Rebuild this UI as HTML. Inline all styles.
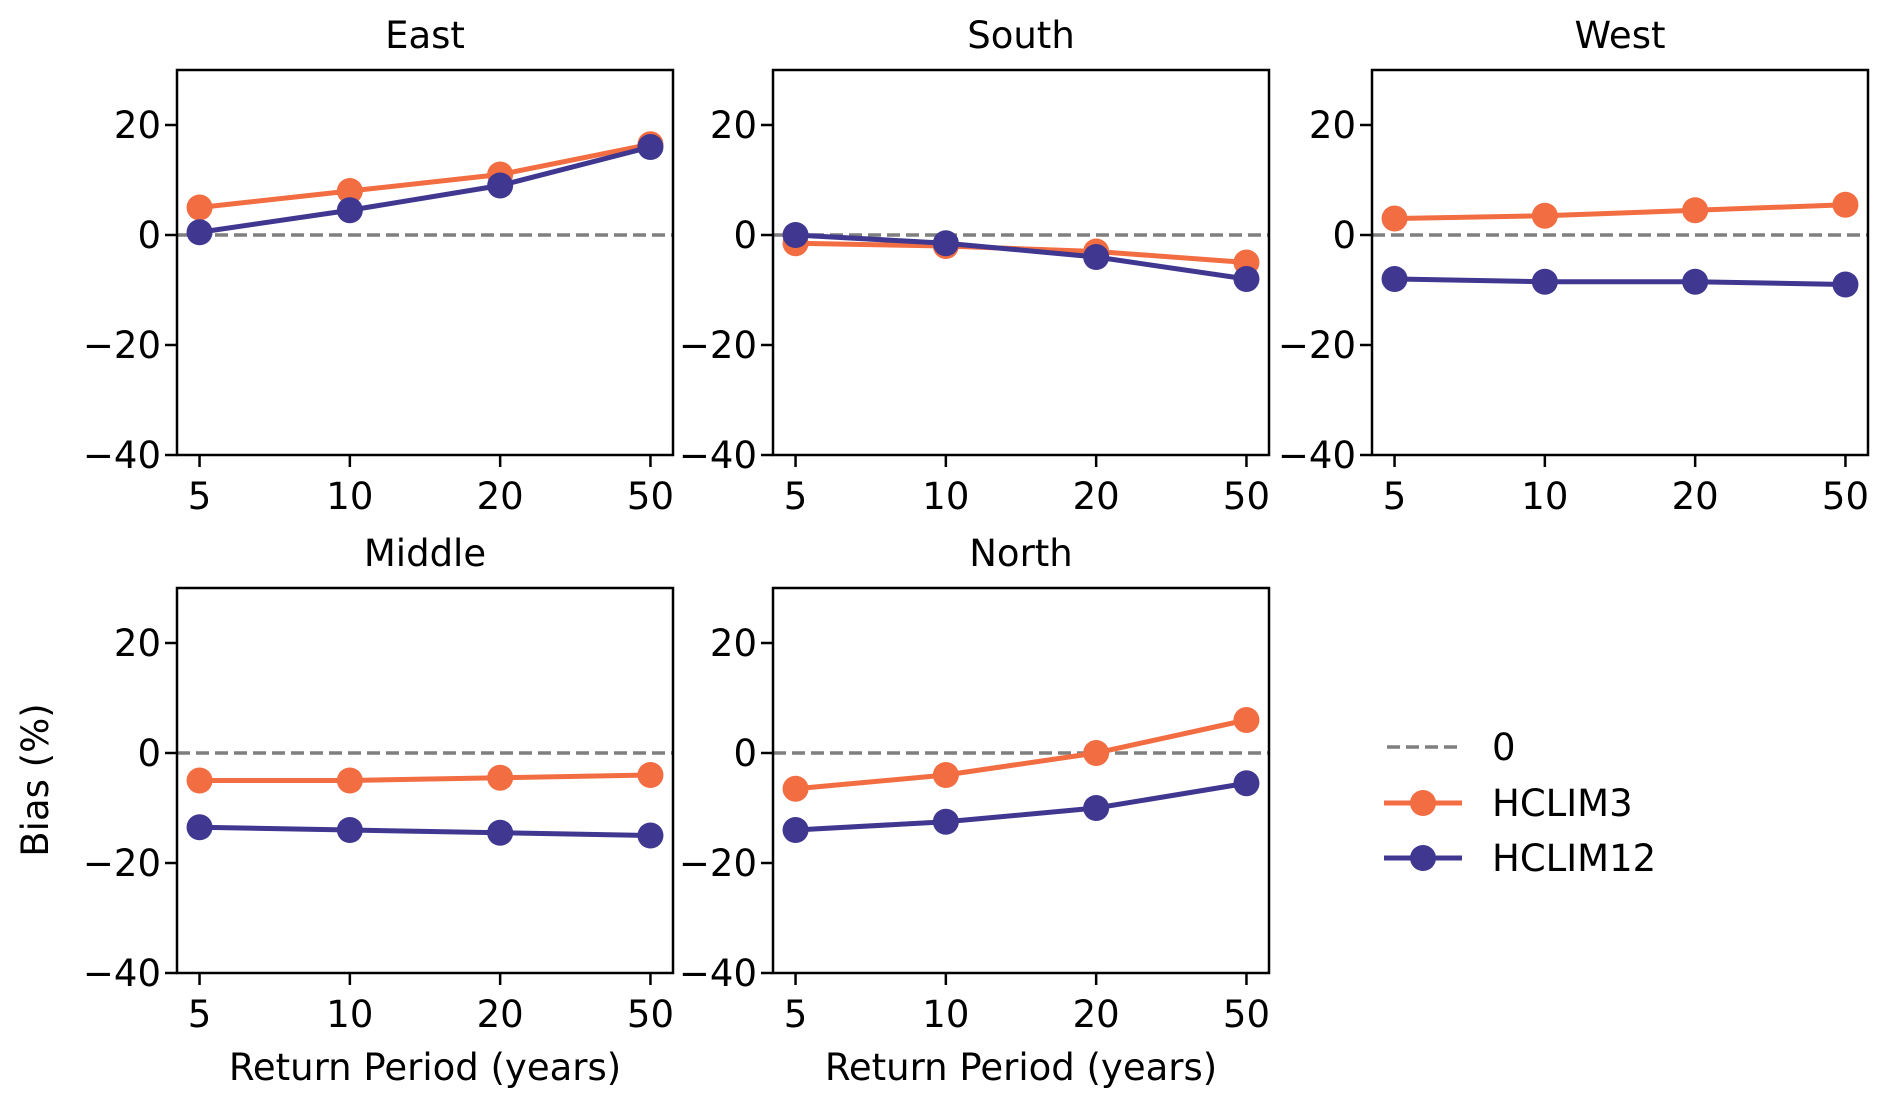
<!DOCTYPE html>
<html><head><meta charset="utf-8"><style>
body{margin:0;background:#fff}
svg{display:block;font-family:"DejaVu Sans","Liberation Sans",sans-serif}
</style></head><body>
<svg id="chart" width="1892" height="1107" viewBox="0 0 1892 1107"></svg>
<script>
const categories=["5","10","20","50"];
const yTicks=[20,0,-20,-40];
const panelTitles=["East","South","West","Middle","North"];
const hclim3East=[5,8,11,16.5];
const hclim12East=[0.5,4.5,9,16];
const hclim3South=[-1.5,-2,-3,-5];
const hclim12South=[0,-1.5,-4,-8];
const hclim3West=[3,3.5,4.5,5.5];
const hclim12West=[-8,-8.5,-8.5,-9];
const hclim3Middle=[-5,-5,-4.5,-4];
const hclim12Middle=[-13.5,-14,-14.5,-15];
const hclim3North=[-6.5,-4,0,6];
const hclim12North=[-14,-12.5,-10,-5.5];
const series3=[hclim3East,hclim3South,hclim3West,hclim3Middle,hclim3North];
const series12=[hclim12East,hclim12South,hclim12West,hclim12Middle,hclim12North];

const NS="http://www.w3.org/2000/svg";
const svg=document.getElementById('chart');
const C3="#f26d41",C12="#3f3790";
const FS=37;
function mk(tag,attrs,parent){const e=document.createElementNS(NS,tag);for(const k in attrs)e.setAttribute(k,attrs[k]);(parent||svg).appendChild(e);return e;}
const lefts=[177,773,1372,177,773];
const tops=[70,70,70,588,588];
const W=496,H=385,ymin=-40,ymax=30;
panelTitles.forEach((t,i)=>{
  const L=lefts[i],T=tops[i];
  const g=mk('g',{});
  
  
  const xs=k=>L+W*(k+0.15)/3.3;
  const ys=v=>T+H*(ymax-v)/(ymax-ymin);
  const title=mk('text',{x:L+W/2,y:T-22,'font-size':FS,'text-anchor':'middle'},g);title.textContent=t;
  
  
  yTicks.forEach(v=>{
    mk('line',{x1:L-12,x2:L,y1:ys(v),y2:ys(v),stroke:'#000','stroke-width':2.5},g);
    const tx=mk('text',{x:L-16,y:ys(v)+13,'font-size':FS,'text-anchor':'end'},g);
    tx.textContent=v<0?'\u2212'+(-v):String(v);
    
    
  });
  categories.forEach((c,k)=>{
    mk('line',{x1:xs(k),x2:xs(k),y1:T+H,y2:T+H+12,stroke:'#000','stroke-width':2.5},g);
    const tx=mk('text',{x:xs(k),y:T+H+54,'font-size':FS,'text-anchor':'middle'},g);
    tx.textContent=c;
    
    
  });
  const zl=mk('line',{x1:L,x2:L+W,y1:ys(0),y2:ys(0),stroke:'#7f7f7f','stroke-width':3.5,'stroke-dasharray':'13,6'},g);
  
  
  [[series3[i],C3,'hclim3'],[series12[i],C12,'hclim12']].forEach(([d,col,nm])=>{
    const pl=mk('polyline',{points:d.map((v,k)=>xs(k)+','+ys(v)).join(' '),fill:'none',stroke:col,'stroke-width':5},g);
    
    
    d.forEach((v,k)=>{
      const c=mk('circle',{cx:xs(k),cy:ys(v),r:13,fill:col},g);
      
      
    });
  });
  mk('rect',{x:L,y:T,width:W,height:H,fill:'none',stroke:'#000','stroke-width':2.5},g);
  if(i>=3){
    const xl=mk('text',{x:L+W/2,y:1080,'font-size':FS,'text-anchor':'middle'},g);
    xl.textContent='Return Period (years)';
    
    
  }
});
const yl=mk('text',{x:0,y:0,'font-size':FS,'text-anchor':'middle',transform:'translate(48,780) rotate(-90)'});
yl.textContent='Bias (%)';


const lg=mk('g',{});


const e0=mk('line',{x1:1387,x2:1460,y1:747,y2:747,stroke:'#7f7f7f','stroke-width':3.5,'stroke-dasharray':'13,6'},lg);


const legendRows=[[C3,'HCLIM3',803],[C12,'HCLIM12',858]];
legendRows.forEach(([col,nm,y])=>{
  mk('line',{x1:1384,x2:1462,y1:y,y2:y,stroke:col,'stroke-width':5},lg);
  mk('circle',{cx:1423,cy:y,r:13,fill:col},lg);
});
[['0',747],['HCLIM3',803],['HCLIM12',858]].forEach(([t,y])=>{
  const tx=mk('text',{x:1492,y:y+13,'font-size':FS},lg);
  tx.textContent=t;
  
  
});
</script>
</body></html>
